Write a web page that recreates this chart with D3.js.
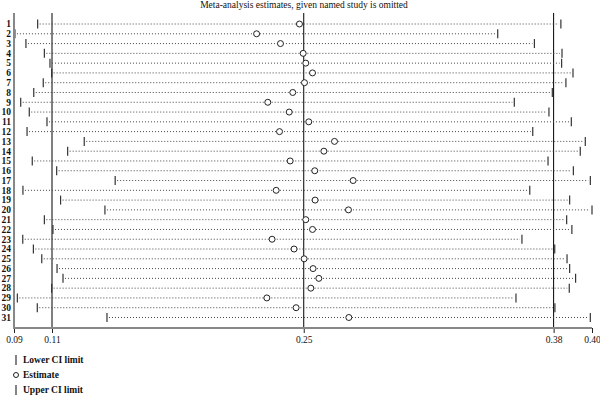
<!DOCTYPE html>
<html>
<head>
<meta charset="utf-8">
<script src="https://cdn.jsdelivr.net/npm/d3@7"></script>
<style>
    body { margin: 0; background: #fff; }
    svg { display: block; }
    text { font-family: "Liberation Serif", "DejaVu Serif", serif; fill: #111; }
</style>
</head>
<body>
<div id="chart"></div>
<script>
"use strict";

// omitted study labels
var studies = d3.range(1, 32).map(String);

// estimate when the named study is left out
var estimates = [0.2432, 0.2202, 0.2330, 0.2452, 0.2466, 0.2502, 0.2459, 0.2396, 0.2262, 0.2377,
                 0.2482, 0.2325, 0.2620, 0.2563, 0.2382, 0.2514, 0.2720, 0.2307, 0.2516, 0.2695,
                 0.2466, 0.2502, 0.2285, 0.2403, 0.2457, 0.2505, 0.2536, 0.2493, 0.2257, 0.2414,
                 0.2697];

var lowerCI = [0.1027, 0.0905, 0.0964, 0.1063, 0.1093, 0.1102, 0.1057, 0.1006, 0.0936, 0.0982,
               0.1077, 0.0970, 0.1277, 0.1188, 0.0998, 0.1129, 0.1443, 0.0948, 0.1150, 0.1388,
               0.1063, 0.1109, 0.0947, 0.1004, 0.1049, 0.1131, 0.1163, 0.1102, 0.0918, 0.1025,
               0.1399];

var upperCI = [0.3835, 0.3496, 0.3693, 0.3841, 0.3839, 0.3900, 0.3862, 0.3789, 0.3585, 0.3771,
               0.3891, 0.3684, 0.3966, 0.3939, 0.3766, 0.3902, 0.3993, 0.3668, 0.3882, 0.4002,
               0.3866, 0.3894, 0.3626, 0.3802, 0.3868, 0.3882, 0.3914, 0.3880, 0.3594, 0.3803,
               0.3993];

// overall (all studies) estimate and its CI
var overall = [0.1104, 0.2455, 0.3796];

var tickValues = [0.0900, 0.1104, 0.2455, 0.3796, 0.4002];
var tickLabels = ["0.09", "0.11", "0.25", "0.38", "0.40"];

var legendItems = ["Lower CI limit", "Estimate", "Upper CI limit"];

var width = 600, height = 397;
var margin = {top: 13, left: 14, right: 8, bottom: 69};
var plotBottom = height - margin.bottom; // 328

var svg = d3.select("#chart").append("svg")
    .attr("width", width)
    .attr("height", height);

var x = d3.scaleLinear()
    .domain([0.09, 0.4002])
    .range([margin.left, 592]);

var y = d3.scalePoint()
    .domain(studies)
    .range([24, 317.5]);

// title
svg.append("text")
    .attr("x", 304)
    .attr("y", 8)
    .attr("text-anchor", "middle")
    .style("font-size", "9.5px")
    .text("Meta-analysis estimates, given named study is omitted");

// reference lines for the overall estimate and CI
svg.append("g").selectAll("line")
    .data(overall)
    .join("line")
    .attr("x1", function (d) { return x(d); })
    .attr("x2", function (d) { return x(d); })
    .attr("y1", margin.top)
    .attr("y2", plotBottom)
    .attr("stroke", "#000")
    .attr("stroke-width", 1);

// dotted range lines
var rows = svg.append("g");
rows.selectAll("line.range")
    .data(studies)
    .join("line")
    .attr("class", "range")
    .attr("x1", function (d, i) { return x(lowerCI[i]) + 2; })
    .attr("x2", function (d, i) { return x(upperCI[i]) - 2; })
    .attr("y1", function (d) { return y(d); })
    .attr("y2", function (d) { return y(d); })
    .attr("stroke", "#444")
    .attr("stroke-width", 1)
    .attr("stroke-dasharray", "1,2");

// CI limit markers
var limits = [];
studies.forEach(function (s, i) {
    limits.push({s: s, v: lowerCI[i]});
    limits.push({s: s, v: upperCI[i]});
});
rows.selectAll("line.limit")
    .data(limits)
    .join("line")
    .attr("class", "limit")
    .attr("x1", function (d) { return x(d.v); })
    .attr("x2", function (d) { return x(d.v); })
    .attr("y1", function (d) { return y(d.s) - 4.5; })
    .attr("y2", function (d) { return y(d.s) + 4.5; })
    .attr("stroke", "#333")
    .attr("stroke-width", 1.2);

// estimates
rows.selectAll("circle")
    .data(studies)
    .join("circle")
    .attr("cx", function (d, i) { return x(estimates[i]); })
    .attr("cy", function (d) { return y(d); })
    .attr("r", 3)
    .attr("fill", "#fff")
    .attr("stroke", "#222")
    .attr("stroke-width", 1);

// study labels
svg.append("g").selectAll("text")
    .data(studies)
    .join("text")
    .attr("x", 11)
    .attr("y", function (d) { return y(d); })
    .attr("dy", "0.35em")
    .attr("text-anchor", "end")
    .style("font-size", "9.5px")
    .style("font-weight", "bold")
    .text(function (d) { return d; });

// left axis line
svg.append("line")
    .attr("x1", margin.left)
    .attr("x2", margin.left)
    .attr("y1", margin.top)
    .attr("y2", plotBottom)
    .attr("stroke", "#888")
    .attr("stroke-width", 2);

// bottom axis
var xAxis = d3.axisBottom(x)
    .tickValues(tickValues)
    .tickFormat(function (d, i) { return tickLabels[i]; })
    .tickSize(5)
    .tickPadding(3);

var gx = svg.append("g")
    .attr("transform", "translate(0," + plotBottom + ")")
    .call(xAxis);
gx.select(".domain").remove();
gx.selectAll(".tick line").attr("stroke", "#222");
gx.selectAll(".tick text")
    .style("font-family", "Liberation Serif, serif")
    .style("font-size", "9.5px")
    .attr("fill", "#111");
gx.append("line")
    .attr("x1", margin.left - 1)
    .attr("x2", 592)
    .attr("y1", 0)
    .attr("y2", 0)
    .attr("stroke", "#888")
    .attr("stroke-width", 2);

// legend
var legend = svg.append("g").attr("transform", "translate(16,360)");
legendItems.forEach(function (label, i) {
    var g = legend.append("g").attr("transform", "translate(0," + (i * 15) + ")");
    if (i === 1) {
        g.append("circle").attr("cx", 0).attr("cy", 0).attr("r", 2.5)
            .attr("fill", "#fff").attr("stroke", "#222").attr("stroke-width", 1);
    } else {
        g.append("line").attr("x1", 0).attr("x2", 0).attr("y1", -5).attr("y2", 5)
            .attr("stroke", "#333").attr("stroke-width", 1.2);
    }
    g.append("text")
        .attr("x", 7)
        .attr("y", 0)
        .attr("dy", "0.35em")
        .style("font-size", "9.5px")
        .style("font-weight", "bold")
        .text(label);
});
</script>
</body>
</html>
